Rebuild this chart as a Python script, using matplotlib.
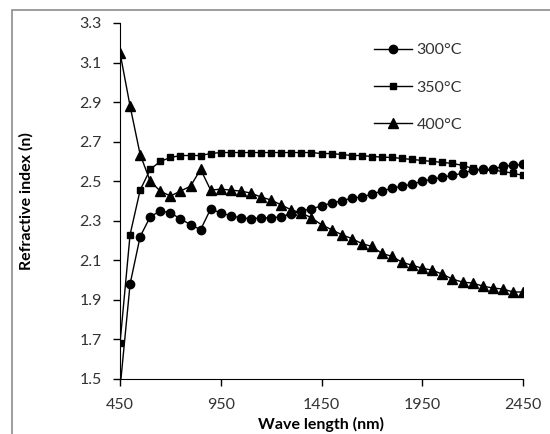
import numpy as np
import matplotlib
matplotlib.use('Agg')
import matplotlib.pyplot as plt
from matplotlib.patches import Rectangle

plt.rcParams['font.family'] = ['Lato', 'DejaVu Sans']

# wavelength (nm), 50 nm steps
wavelength = np.arange(450, 2451, 50)

n_300 = [1.45, 1.98, 2.22, 2.32, 2.35, 2.34, 2.31, 2.28, 2.255, 2.36,
         2.34, 2.325, 2.315, 2.31, 2.315, 2.315, 2.32, 2.335, 2.35, 2.36,
         2.375, 2.39, 2.40, 2.415, 2.42, 2.435, 2.45, 2.465, 2.475, 2.485,
         2.50, 2.51, 2.52, 2.53, 2.54, 2.555, 2.56, 2.56, 2.575, 2.58, 2.585]

n_350 = [1.68, 2.23, 2.455, 2.56, 2.60, 2.62, 2.63, 2.63, 2.63, 2.64,
         2.645, 2.645, 2.645, 2.645, 2.645, 2.645, 2.645, 2.645, 2.645, 2.645,
         2.64, 2.64, 2.635, 2.63, 2.63, 2.625, 2.622, 2.62, 2.615, 2.61,
         2.605, 2.60, 2.595, 2.59, 2.58, 2.565, 2.555, 2.555, 2.55, 2.54, 2.53]

n_400 = [3.15, 2.88, 2.635, 2.50, 2.45, 2.425, 2.45, 2.475, 2.56, 2.455,
         2.46, 2.455, 2.45, 2.44, 2.42, 2.405, 2.38, 2.355, 2.34, 2.315,
         2.28, 2.255, 2.23, 2.21, 2.185, 2.17, 2.135, 2.12, 2.09, 2.075,
         2.06, 2.05, 2.03, 2.005, 1.99, 1.985, 1.97, 1.96, 1.955, 1.94, 1.94]

labels = ['300°C', '350°C', '400°C']

fig = plt.figure(figsize=(5.5, 4.34), dpi=100)
ax = fig.add_axes([120/550, 1-379/434, 403/550, 356/434])

# chart border (grey frame, cut at right/bottom)
fig.patches.append(Rectangle((12/550, -0.1), 1.0, 1-10/434+0.1, transform=fig.transFigure,
                             fill=False, edgecolor='#8c8c8c', linewidth=1.2))

ax.plot(wavelength, n_300, '-o', color='black', lw=1, ms=6, label=labels[0])
ax.plot(wavelength, n_350, '-s', color='black', lw=1, ms=4.5, label=labels[1])
ax.plot(wavelength, n_400, '-^', color='black', lw=1, ms=6.5, label=labels[2])

ax.set_xlim(450, 2450)
ax.set_ylim(1.5, 3.3)
ax.set_xticks(np.arange(450, 2451, 500))
ax.set_yticks(np.arange(1.5, 3.31, 0.2))
ax.yaxis.set_major_formatter(matplotlib.ticker.FormatStrFormatter('%.1f'))
ax.spines['top'].set_visible(False)
ax.spines['right'].set_visible(False)
ax.tick_params(direction='out', length=5, width=1, labelsize=11.5, colors='black',
               labelcolor='#333333')
ax.tick_params(axis='x', pad=9)
ax.tick_params(axis='y', pad=8)
ax.set_xlabel('Wave length (nm)', fontsize=11.5, fontweight='bold', labelpad=3)
ax.set_ylabel('Refractive index (n)', fontsize=11.5, fontweight='bold')
ax.yaxis.set_label_coords(-0.215, 0.5)

ax.legend(loc='upper left', bbox_to_anchor=(366/550, 1-35/434), bbox_transform=fig.transFigure,
          frameon=False, borderpad=0, handlelength=2.4, handletextpad=0.25,
          labelspacing=1.45, fontsize=11.5, labelcolor='#333333')

fig.savefig('out.png', dpi=100)
